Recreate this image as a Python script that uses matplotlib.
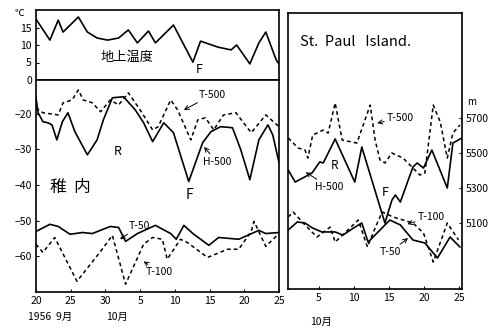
import matplotlib
matplotlib.use("Agg")
import matplotlib.pyplot as plt

plt.rcParams['font.family'] = ['Noto Sans CJK JP', 'DejaVu Sans']

# --- Wakkanai (days counted from Sept 20, 1956) ---
ground_day = [0, 2.0, 3.2, 3.9, 6.1, 7.4, 8.8, 10.3, 11.9, 13.3, 14.6, 16.2, 17.2,
              19.8, 22.6, 23.7, 26.2, 28.1, 28.9, 30.8, 32.1, 33.1, 34.6, 35.0]
ground_temp = [17.4, 11.4, 17.1, 13.7, 18.0, 13.7, 12.0, 11.4, 12.0, 14.3, 10.6, 14.0, 10.6,
               15.7, 5.1, 11.1, 9.4, 8.6, 10.0, 4.6, 10.6, 13.7, 5.7, 4.6]

wk_h500_day = [0, 0.3, 1.0, 1.7, 2.3, 3.0, 3.8, 4.6, 5.6, 7.4, 8.8, 9.7, 11.0, 12.6, 14.3,
               15.5, 16.8, 18.4, 19.8, 22.0, 24.0, 25.2, 26.6, 28.3, 29.5, 30.8, 32.1,
               33.4, 34.1, 35.0]
wk_h500 = [-15.5, -19.7, -22.2, -22.5, -23.1, -27.3, -22.2, -19.7, -25.0, -31.5, -27.3,
           -21.7, -15.5, -15.2, -18.9, -22.5, -27.8, -22.5, -25.3, -39.0, -28.1, -25.0,
           -23.6, -23.9, -30.1, -38.5, -27.3, -23.1, -25.9, -33.7]

wk_t500_day = [0, 1.0, 3.2, 3.9, 5.2, 6.1, 6.8, 8.1, 9.3, 10.7, 11.9, 13.3, 15.0, 16.8,
               17.6, 19.4, 20.4, 22.3, 23.3, 24.4, 25.6, 27.0, 28.8, 31.0, 33.1, 35.0]
wk_t500 = [-18.3, -19.7, -20.3, -16.9, -16.1, -13.3, -16.1, -16.9, -19.4, -16.1, -17.5,
           -14.1, -18.9, -24.5, -23.6, -16.1, -18.9, -27.3, -21.7, -21.1, -24.5, -20.3,
           -19.7, -25.3, -20.3, -23.6]

wk_t50_day = [0, 2.0, 3.2, 4.9, 6.7, 8.1, 10.7, 11.9, 12.9, 14.6, 17.2, 19.4, 20.2, 21.3,
              22.6, 24.9, 26.3, 29.2, 32.1, 33.1, 35.0]
wk_t50 = [-53.0, -51.0, -51.6, -53.8, -53.3, -53.6, -51.6, -51.9, -55.8, -53.6, -51.3,
          -53.6, -55.2, -51.3, -53.6, -56.9, -54.7, -55.2, -52.7, -53.6, -53.3]

wk_t100_day = [0, 1.0, 2.7, 5.9, 9.3, 11.0, 12.9, 15.5, 16.8, 18.2, 18.9, 20.8, 21.8,
               24.7, 27.6, 29.2, 31.0, 31.4, 33.1, 34.9]
wk_t100 = [-56.6, -58.9, -54.7, -67.0, -58.6, -54.1, -67.8, -56.6, -54.7, -55.2, -60.8,
           -55.2, -56.1, -60.3, -58.0, -58.0, -53.0, -50.2, -57.2, -53.8]

wk_ticks = [0, 5, 10, 15, 20, 25, 30, 35]
wk_ticklabels = ['20', '25', '30', '5', '10', '15', '20', '25']

# --- St. Paul Island (October days, metres) ---
sp_t500_day = [0.6, 2.0, 3.0, 3.4, 4.1, 5.6, 6.3, 7.3, 8.3, 10.4, 12.3, 13.0, 13.7, 14.4,
               15.4, 17.0, 18.4, 19.4, 20.1, 21.3, 22.3, 23.3, 24.1, 25.1]
sp_t500 = [5586, 5529, 5517, 5471, 5603, 5631, 5614, 5786, 5574, 5557, 5774, 5574, 5460,
           5443, 5500, 5471, 5414, 5374, 5386, 5774, 5677, 5471, 5614, 5660]

sp_h500_day = [0.6, 1.6, 4.0, 5.1, 5.6, 7.3, 10.1, 11.1, 14.4, 15.4, 15.9, 16.6, 18.4,
               19.0, 19.9, 21.1, 23.3, 24.1, 25.4]
sp_h500 = [5403, 5334, 5386, 5449, 5443, 5580, 5334, 5534, 5100, 5231, 5260, 5220, 5420,
           5443, 5414, 5517, 5300, 5557, 5586]

sp_t50_day = [0.6, 1.9, 3.0, 4.1, 5.4, 7.3, 8.4, 9.9, 11.1, 12.0, 15.1, 16.6, 18.4, 20.1,
              21.9, 23.7, 25.1]
sp_t50 = [5060, 5106, 5100, 5071, 5049, 5049, 5031, 5071, 5100, 4991, 5117, 5089, 5003,
          4986, 4900, 5020, 4963]

sp_t100_day = [0.6, 1.3, 3.0, 4.7, 6.6, 7.3, 10.6, 11.9, 13.0, 14.0, 15.6, 18.4, 19.9,
               21.3, 23.3, 24.9]
sp_t100 = [5134, 5163, 5089, 5020, 5077, 4991, 5117, 4963, 5071, 5163, 5134, 5100, 5043,
           4877, 5100, 5003]

sp_ticks = [5, 10, 15, 20, 25]
sp_height_ticks = [5100, 5300, 5500, 5700]

W, H = 504, 333
fig = plt.figure(figsize=(W / 100, H / 100), dpi=100)


def box(x0, y0, x1, y1):
    # pixel box -> figure fraction
    return [x0 / W, 1 - y1 / H, (x1 - x0) / W, (y1 - y0) / H]


solid = dict(color='black', lw=1.2)
dashed = dict(color='black', lw=1.1, ls=(0, (2.5, 2)))
tsize = 7.5
arrow = dict(arrowstyle='->', color='black', lw=0.7, shrinkA=0, shrinkB=0)


def style(ax):
    for s in ax.spines.values():
        s.set_linewidth(1.2)
    ax.tick_params(direction='in', length=2, width=0.8, labelsize=tsize, pad=3)


# top: ground temperature
ax_t = fig.add_axes(box(36, 10, 279, 80))
ax_t.plot(ground_day, ground_temp, **solid)
ax_t.set_xlim(0, 35)
ax_t.set_ylim(0, 20)
ax_t.set_yticks([0, 5, 10, 15])
ax_t.set_xticks([])
style(ax_t)
ax_t.text(-0.05, 0.95, '℃', transform=ax_t.transAxes, fontsize=7, ha='right', va='center')
ax_t.text(9.3, 6.6, '地上温度', fontsize=9.5, va='center')
ax_t.text(23.0, 2.9, 'F', fontsize=9, va='center')

# lower left: Wakkanai upper air
ax_w = fig.add_axes(box(36, 80, 279, 292))
ax_w.plot(wk_t500_day, wk_t500, **dashed)
ax_w.plot(wk_h500_day, wk_h500, **solid)
ax_w.plot(wk_t50_day, wk_t50, **solid)
ax_w.plot(wk_t100_day, wk_t100, **dashed)
ax_w.set_xlim(0, 35)
ax_w.set_ylim(-70, -10.5)
ax_w.set_yticks([-20, -30, -40, -50, -60])
ax_w.set_xticks(wk_ticks)
ax_w.set_xticklabels(wk_ticklabels)
style(ax_w)
ax_w.annotate('T-500', xy=(21.3, -18.9), xytext=(23.4, -14.7), fontsize=tsize,
              va='center', arrowprops=arrow)
ax_w.text(11.2, -30.6, 'R', fontsize=9, va='center')
ax_w.annotate('H-500', xy=(24.2, -29.3), xytext=(24.0, -33.4), fontsize=tsize,
              va='center', arrowprops=arrow)
ax_w.text(21.5, -42.7, 'F', fontsize=10, va='center')
ax_w.text(2.0, -40.7, '稚  内', fontsize=12, va='center')
ax_w.annotate('T-50', xy=(12.1, -55.2), xytext=(13.3, -51.6), fontsize=tsize,
              va='center', arrowprops=arrow)
ax_w.annotate('T-100', xy=(15.5, -61.4), xytext=(15.8, -64.4), fontsize=tsize,
              va='center', arrowprops=arrow)
fig.text(28 / W, 1 - 317 / H, '1956  9月', fontsize=7.5, va='center')
fig.text(106 / W, 1 - 317 / H, '10月', fontsize=7.5, va='center')

# right: St. Paul Island
ax_s = fig.add_axes(box(288, 13, 462, 289))
ax_s.plot(sp_t500_day, sp_t500, **dashed)
ax_s.plot(sp_h500_day, sp_h500, **solid)
ax_s.plot(sp_t50_day, sp_t50, **solid)
ax_s.plot(sp_t100_day, sp_t100, **dashed)
ax_s.set_xlim(0.57, 25.4)
ax_s.set_ylim(4723, 6300)
ax_s.set_xticks(sp_ticks)
ax_s.yaxis.tick_right()
ax_s.set_yticks(sp_height_ticks)
style(ax_s)
ax_s.text(0.07, 0.895, 'St.  Paul   Island.', transform=ax_s.transAxes, fontsize=10.5,
          va='center')
ax_s.text(1.03, 0.678, 'm', transform=ax_s.transAxes, fontsize=7, va='center', ha='left')
ax_s.annotate('T-500', xy=(13.3, 5671), xytext=(14.7, 5700), fontsize=tsize,
              va='center', arrowprops=arrow)
ax_s.text(6.6, 5426, 'R', fontsize=8.5, va='center')
ax_s.annotate('H-500', xy=(3.1, 5390), xytext=(4.4, 5306), fontsize=tsize,
              va='center', arrowprops=arrow)
ax_s.text(14.0, 5277, 'F', fontsize=9, va='center')
ax_s.annotate('T-100', xy=(17.6, 5094), xytext=(19.1, 5134), fontsize=tsize,
              va='center', arrowprops=arrow)
ax_s.annotate('T-50', xy=(17.7, 5014), xytext=(13.6, 4934), fontsize=tsize,
              va='center', arrowprops=arrow)
fig.text(310 / W, 1 - 322 / H, '10月', fontsize=7.5, va='center')

fig.savefig('out.png', dpi=100, facecolor='white')
